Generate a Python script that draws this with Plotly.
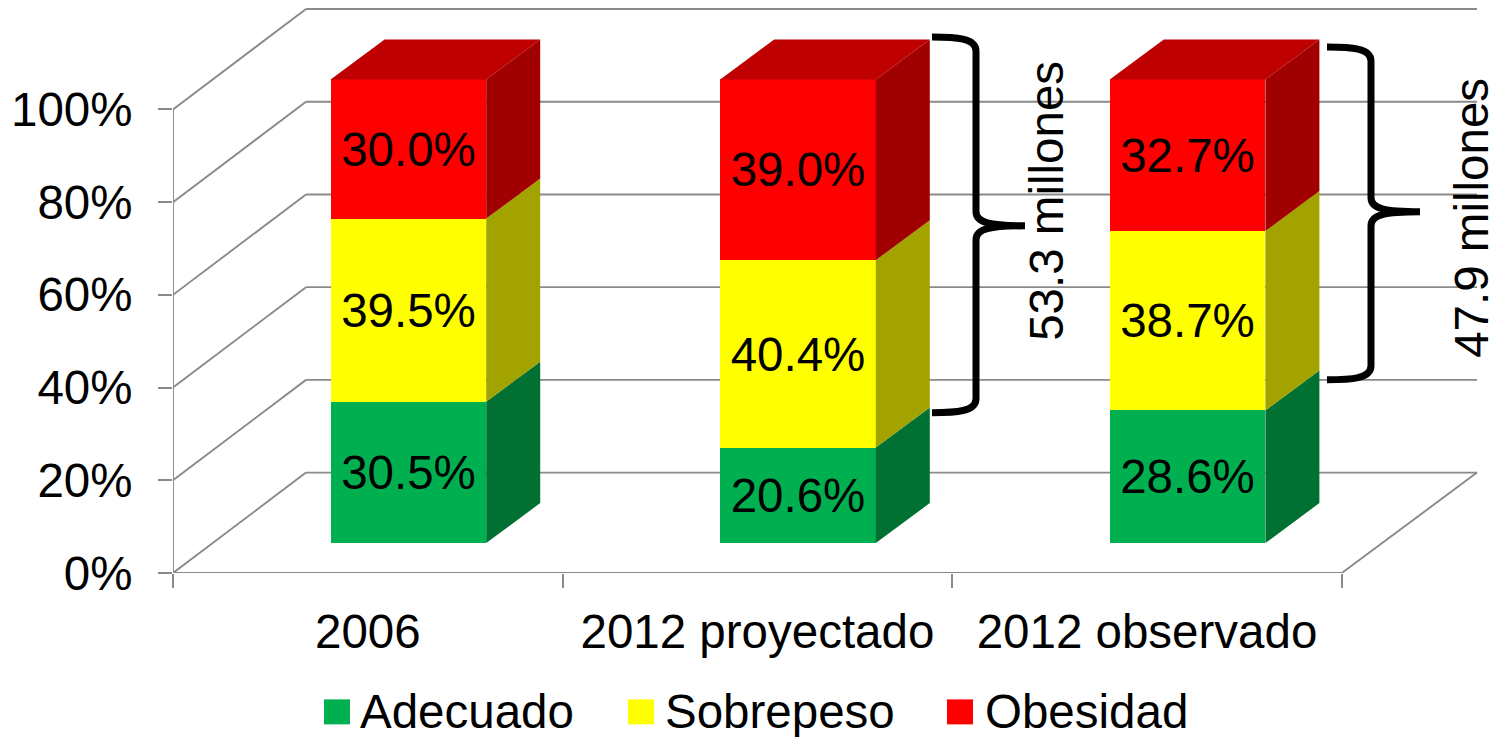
import plotly.graph_objects as go

# ---- data ----
categories = ["2006", "2012 proyectado", "2012 observado"]
adecuado = [30.5, 20.6, 28.6]
sobrepeso = [39.5, 40.4, 38.7]
obesidad = [30.0, 39.0, 32.7]
series_names = ["Adecuado", "Sobrepeso", "Obesidad"]
front_colors = ["#00B050", "#FFFF00", "#FF0000"]
side_colors = ["#007033", "#A3A300", "#A00000"]
top_color = "#BE0000"
y_ticks = [0, 20, 40, 60, 80, 100]
y_tick_labels = ["0%", "20%", "40%", "60%", "80%", "100%"]
brace_labels = ["53.3 millones", "47.9 millones"]

# ---- geometry of the pseudo 3D box ----
W, H = 1495, 737
PX_X0, PX_CAT = 173.0, 389.6      # pixel of x=-0.5 and pixels per category
PX_Y0, PX_PCT = 573.5, 4.64       # pixel of 0 % and pixels per percent
M_L, M_R, M_T = 173, 10, 4
M_B = H - PX_Y0


def X(px):
    return -0.5 + (px - PX_X0) / PX_CAT


def Y(py):
    return (PX_Y0 - py) / PX_PCT


x_max = X(W - M_R)
y_max = Y(M_T)
wall_dx, wall_dy = 133 / PX_CAT, 100.5 / PX_PCT
floor_right_x = X(1477)
bar_w = 155.6 / PX_CAT
bar_shift_x, bar_shift_y = 40.6 / PX_CAT, 30.0 / PX_PCT
depth_x, depth_y = 54 / PX_CAT, 40 / PX_PCT
GRID = "#8A8A8A"

fig = go.Figure()

# front faces
bases = [bar_shift_y] * 3
centers = [i + bar_shift_x for i in range(3)]
all_series = [adecuado, sobrepeso, obesidad]
legend_ids = ["legend", "legend2", "legend3"]
for name, vals, col, side, lid in zip(series_names, all_series, front_colors, side_colors, legend_ids):
    fig.add_trace(go.Bar(
        x=centers, y=vals, base=list(bases), width=bar_w, name=name, legend=lid,
        marker=dict(color=col, line=dict(width=0)),
        text=[f"{v:.1f}%" for v in vals], textposition="inside",
        insidetextanchor="middle", textangle=0, constraintext="none",
        textfont=dict(size=47.5, color="black", family="Liberation Sans"),
        hoverinfo="name+text",
    ))
    # side faces
    sx, sy = [], []
    for c, b, v in zip(centers, bases, vals):
        r = c + bar_w / 2
        sx += [r, r + depth_x, r + depth_x, r, r, None]
        sy += [b, b + depth_y, b + v + depth_y, b + v, b, None]
    fig.add_trace(go.Scatter(
        x=sx, y=sy, mode="lines", fill="toself", fillcolor=side,
        line=dict(width=0), showlegend=False, hoverinfo="skip"))
    bases = [b + v for b, v in zip(bases, vals)]

# top faces
tx, ty = [], []
for c, t in zip(centers, bases):
    l, r = c - bar_w / 2, c + bar_w / 2
    tx += [l, l + depth_x, r + depth_x, r, l, None]
    ty += [t, t + depth_y, t + depth_y, t, t, None]
fig.add_trace(go.Scatter(x=tx, y=ty, mode="lines", fill="toself", fillcolor=top_color,
                         line=dict(width=0), showlegend=False, hoverinfo="skip"))

shapes = []


def seg(x0, y0, x1, y1):
    shapes.append(dict(type="line", xref="x", yref="y", x0=x0, y0=y0, x1=x1, y1=y1,
                       layer="below", line=dict(color=GRID, width=1.9)))


# walls and floor
for t in y_ticks:
    seg(-0.5, t, -0.5 + wall_dx, t + wall_dy)
    seg(-0.5 + wall_dx, t + wall_dy, floor_right_x, t + wall_dy)
seg(-0.5, 0, -0.5, 100)
seg(-0.5, 0, 2.5, 0)
seg(2.5, 0, floor_right_x, wall_dy)


def brace(xl, xv, xt, top, mid, bot):
    r = 14
    p = (f"M{X(xl)},{Y(top)} C{X(xl+24)},{Y(top)} {X(xv)},{Y(top+1)} {X(xv)},{Y(top+r)} "
         f"L{X(xv)},{Y(mid-r)} C{X(xv)},{Y(mid-3)} {X(xv+14)},{Y(mid)} {X(xt)},{Y(mid)} "
         f"C{X(xv+14)},{Y(mid)} {X(xv)},{Y(mid+3)} {X(xv)},{Y(mid+r)} "
         f"L{X(xv)},{Y(bot-r)} C{X(xv)},{Y(bot-1)} {X(xl+24)},{Y(bot)} {X(xl)},{Y(bot)}")
    shapes.append(dict(type="path", xref="x", yref="y", path=p, layer="above",
                       line=dict(color="black", width=7)))


brace(932, 976, 1025, 37, 226, 413)
brace(1327, 1371, 1420, 47, 212, 380)

plot_w = W - M_L - M_R
plot_h = H - M_T - M_B

# legend keys, enlarged behind the native keys; text starts at these pixels
swatch_px = [337, 641, 960]
legend_text_px = [360, 665, 985]
for px, col in zip(swatch_px, front_colors):
    shapes.append(dict(type="rect", xref="paper", yref="paper",
                       x0=(px - 13 - M_L) / plot_w, x1=(px + 13 - M_L) / plot_w,
                       y0=(H - M_B - 725) / plot_h, y1=(H - M_B - 700) / plot_h,
                       line=dict(width=0), fillcolor=col, layer="above"))


def legend_at(px):
    return dict(orientation="h", x=(px - 40 - M_L) / plot_w, xanchor="left",
                y=(H - M_B - 710) / plot_h, yanchor="middle", itemwidth=30,
                bgcolor="rgba(0,0,0,0)", font=dict(size=47.5))


annotations = [
    dict(text=brace_labels[0], x=X(1047), y=Y(201), xref="x", yref="y", textangle=-90, showarrow=False,
         font=dict(size=47.5, color="black"), xanchor="center", yanchor="middle"),
    dict(text=brace_labels[1], x=X(1472), y=Y(218), xref="x", yref="y", textangle=-90, showarrow=False,
         font=dict(size=47.5, color="black"), xanchor="center", yanchor="middle"),
]

fig.update_layout(
    width=W, height=H, barmode="overlay", bargap=0,
    paper_bgcolor="white", plot_bgcolor="white",
    font=dict(family="Liberation Sans", size=47.5, color="black"),
    margin=dict(l=M_L, r=M_R, t=M_T, b=M_B, pad=0, autoexpand=False),
    shapes=shapes, annotations=annotations,
    showlegend=True,
    legend=legend_at(legend_text_px[0]),
    legend2=legend_at(legend_text_px[1]),
    legend3=legend_at(legend_text_px[2]),
    xaxis=dict(range=[-0.5, x_max], tickmode="array", tickvals=[0, 1, 2], ticktext=categories,
               ticks="", showgrid=False, zeroline=False, showline=False,
               ticklabelstandoff=26,
               minor=dict(tickmode="array", tickvals=[-0.5, 0.5, 1.5, 2.5], ticks="outside",
                          ticklen=14, tickwidth=1.9, tickcolor=GRID, showgrid=False)),
    yaxis=dict(range=[0, y_max], tickmode="array", tickvals=y_ticks, ticktext=y_tick_labels,
               ticks="outside", ticklen=14, tickwidth=1.9, tickcolor=GRID,
               showgrid=False, zeroline=False, showline=False, ticklabelstandoff=16),
)

fig.write_html("out.html", config={"displayModeBar": False},
               post_script="document.body.style.margin='0';document.body.style.overflow='hidden';")
